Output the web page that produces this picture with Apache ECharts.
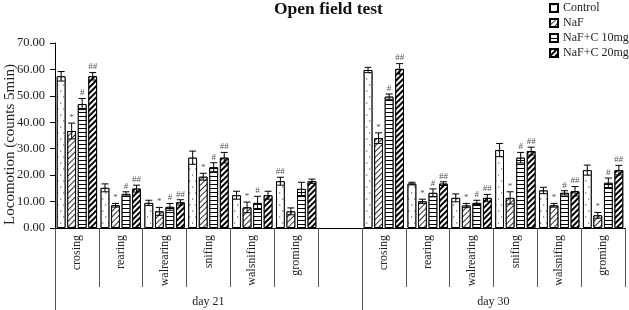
<!DOCTYPE html>
<html>
<head>
<meta charset="utf-8">
<script src="https://cdn.jsdelivr.net/npm/echarts@6/dist/echarts.min.js"></script>
<style>
html, body { margin: 0; padding: 0; background: #fff; }
#chart { width: 629px; height: 310px; }
</style>
</head>
<body>
<div id="chart"></div>
<script>
// categories (slot 7 is the empty gap between the two days)
var categories = ['crosing', 'rearing', 'walrearing', 'snifing', 'walsnifing', 'groming', '',
                  'crosing', 'rearing', 'walrearing', 'snifing', 'walsnifing', 'groming'];
var groupNames = ['day 21', 'day 30'];
var groupCenters = [3.5, 10];
var groupEdges = [0, 7];
var seriesNames = ['Control', 'NaF', 'NaF+C 10mg', 'NaF+C 20mg'];

// mean values
var control = [57.4, 15.2, 9.5, 26.6, 12.4, 17.7, null, 59.8, 16.8, 11.4, 29.5, 14.2, 21.9];
var naf     = [36.7, 8.6, 6.3, 19.4, 7.8, 6.3, null, 34.0, 10.1, 8.5, 11.4, 8.6, 4.8];
var naf10   = [46.9, 12.9, 8.0, 23.0, 9.5, 14.8, null, 49.7, 13.3, 9.5, 26.6, 13.3, 17.1];
var naf20   = [57.4, 14.9, 9.7, 26.6, 12.4, 17.7, null, 60.2, 16.8, 11.4, 29.1, 13.9, 21.9];

// error (+/-)
var controlErr = [1.8, 1.5, 1.0, 2.5, 1.5, 1.5, null, 1.0, 0.5, 1.5, 2.5, 1.2, 1.9];
var nafErr     = [3.0, 0.7, 1.5, 1.3, 2.0, 1.3, null, 2.0, 0.8, 0.8, 2.3, 0.7, 1.1];
var naf10Err   = [2.1, 0.8, 1.3, 1.7, 2.5, 2.5, null, 1.0, 1.5, 1.0, 2.0, 0.8, 1.8];
var naf20Err   = [1.4, 1.3, 1.0, 2.0, 1.5, 0.8, null, 2.0, 0.7, 1.3, 1.5, 1.8, 1.8];

// significance marks
var controlSig = ['', '', '', '', '', '##', '', '', '', '', '', '', ''];
var nafSig     = ['*', '*', '*', '*', '*', '', '', '*', '*', '*', '*', '*', '*'];
var naf10Sig   = ['#', '#', '#', '#', '#', '', '', '#', '#', '#', '#', '#', '#'];
var naf20Sig   = ['##', '##', '##', '##', '', '', '', '##', '##', '##', '##', '##', '##'];

var values = [control, naf, naf10, naf20];
var errs = [controlErr, nafErr, naf10Err, naf20Err];
var sigs = [controlSig, nafSig, naf10Sig, naf20Sig];

var serif = 'Liberation Serif';
var catGap = 0.08, barGapRatio = 0.2;

var decals = [
    {symbol: 'path://M0,0L3,2L0,4Z', symbolSize: 0.8, dashArrayX: [[2, 4], [0, 3, 2, 1]], dashArrayY: [2, 4],
        color: '#000', backgroundColor: '#fff'},
    {symbol: 'rect', symbolSize: 1, dashArrayX: [1, 0], dashArrayY: [1, 2.5], rotation: -Math.PI / 4,
        color: '#333', backgroundColor: '#fff'},
    {symbol: 'rect', symbolSize: 1, dashArrayX: [1, 0], dashArrayY: [1, 2.5], rotation: 0,
        color: '#000', backgroundColor: '#fff'},
    {symbol: 'rect', symbolSize: 1, dashArrayX: [1, 0], dashArrayY: [2, 2], rotation: -Math.PI / 4,
        color: '#000', backgroundColor: '#fff'}
];

function errorSeries(k) {
    var data = [];
    for (var i = 0; i < categories.length; i++) {
        if (values[k][i] != null) data.push([i, values[k][i], errs[k][i]]);
    }
    return {
        type: 'custom',
        xAxisIndex: 0,
        yAxisIndex: 0,
        silent: true,
        z: 5,
        renderItem: function (params, api) {
            var i = api.value(0), v = api.value(1), e = api.value(2);
            var band = api.size([1, 0])[0];
            var w = band * (1 - catGap) / (4 + 3 * barGapRatio);
            var cx = api.coord([i, 0])[0] - band * (1 - catGap) / 2 + w / 2 + k * w * (1 + barGapRatio);
            var yTop = api.coord([i, v + e])[1];
            var yBot = api.coord([i, v - e])[1];
            var cap = w * 0.4;
            var st = {stroke: '#000', lineWidth: 1};
            var children = [
                {type: 'line', shape: {x1: cx, y1: yTop, x2: cx, y2: yBot}, style: st},
                {type: 'line', shape: {x1: cx - cap, y1: yTop, x2: cx + cap, y2: yTop}, style: st},
                {type: 'line', shape: {x1: cx - cap, y1: yBot, x2: cx + cap, y2: yBot}, style: st}
            ];
            var s = sigs[k][i];
            if (s) {
                children.push({type: 'text', style: {text: s, x: cx, y: yTop - 1, align: 'center',
                    verticalAlign: 'bottom', font: '9px "Liberation Serif"', fill: '#555'}});
            }
            return {type: 'group', children: children};
        },
        data: data
    };
}

var series = [];
for (var k = 0; k < 4; k++) {
    series.push({
        name: seriesNames[k],
        type: 'bar',
        xAxisIndex: 0,
        barGap: (barGapRatio * 100) + '%',
        barCategoryGap: (catGap * 100) + '%',
        itemStyle: {color: '#fff', borderColor: '#000', borderWidth: 1, decal: decals[k]},
        data: values[k]
    });
}
for (var k = 0; k < 4; k++) series.push(errorSeries(k));

var myChart = echarts.init(document.getElementById('chart'));
var option = {
    animation: false,
    backgroundColor: '#fff',
    title: {
        text: 'Open field test',
        left: 274,
        top: 0,
        padding: 0,
        textStyle: {fontFamily: serif, fontWeight: 'bold', fontSize: 17.5, color: '#111'}
    },
    legend: {
        data: seriesNames,
        orient: 'vertical',
        left: 549,
        top: 1,
        padding: 0,
        itemWidth: 8,
        itemHeight: 8,
        itemGap: 1,
        icon: 'rect',
        textStyle: {fontFamily: serif, fontSize: 12, color: '#222', lineHeight: 14}
    },
    grid: {left: 55, right: 4, top: 43, bottom: 82, containLabel: false, outerBoundsMode: 'none'},
    xAxis: [
        {
            type: 'category',
            data: categories,
            position: 'bottom',
            axisLine: {lineStyle: {color: '#000', width: 1}},
            axisTick: {show: true, interval: 0, length: 59, lineStyle: {color: '#555'}},
            axisLabel: {interval: 0, rotate: 90, margin: 7, fontFamily: serif, fontSize: 12, color: '#222'}
        },
        {
            type: 'value',
            min: 0,
            max: 13,
            position: 'bottom',
            axisLine: {show: false},
            axisTick: {show: true, length: 90, customValues: groupEdges, lineStyle: {color: '#555'}},
            axisLabel: {
                customValues: groupCenters,
                margin: 68,
                fontFamily: serif,
                fontSize: 12,
                color: '#222',
                formatter: function (v) { return groupNames[groupCenters.indexOf(v)]; }
            },
            splitLine: {show: false}
        }
    ],
    yAxis: {
        type: 'value',
        min: 0,
        max: 70,
        interval: 10,
        name: 'Locomotion (counts 5min)',
        nameLocation: 'middle',
        nameGap: 37,
        nameMoveOverlap: false,
        nameTextStyle: {fontFamily: serif, fontSize: 15, color: '#222', padding: [0, 18, 0, 0]},
        axisLine: {show: true, lineStyle: {color: '#000'}},
        axisTick: {show: true, length: 5, lineStyle: {color: '#000'}},
        axisLabel: {formatter: function (v) { return v.toFixed(2); }, fontFamily: serif, fontSize: 12.5,
            color: '#222', margin: 10},
        splitLine: {show: false}
    },
    series: series
};
myChart.setOption(option);
</script>
</body>
</html>
